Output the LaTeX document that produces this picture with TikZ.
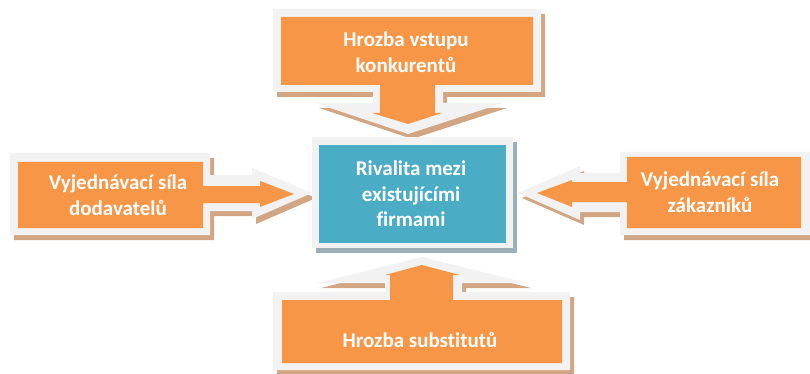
\documentclass[tikz,border=0pt]{standalone}
\usepackage{fontspec}
\setmainfont{Carlito}[Ligatures=NoCommon]
\definecolor{forceorange}{HTML}{F79646}
\definecolor{rivalblue}{HTML}{4BACC6}
\definecolor{glowgray}{HTML}{F2F2F2}
\definecolor{tanshadow}{HTML}{D2A682}
\definecolor{blueshadow}{HTML}{9CB0B8}

\begin{document}
\begin{tikzpicture}[x=1pt,y=-1pt,
    drop/.style={shift={(4,5)}},
    lbl/.style={text=white,align=center,font=\bfseries\fontsize{21}{25.5}\selectfont}]
  \useasboundingbox (0,0) rectangle (810,374);

  % top callout: entry of new competitors
  \fill[tanshadow,drop] (273,9) -- (541,9) -- (541,92) -- (443,92) -- (443,103) -- (503,103)
    -- (408,134) -- (315,103) -- (373,103) -- (373,92) -- (273,92) -- cycle;
  \fill[glowgray] (273,9) -- (541,9) -- (541,92) -- (443,92) -- (443,103) -- (503,103)
    -- (408,134) -- (315,103) -- (373,103) -- (373,92) -- (273,92) -- cycle;
  \fill[forceorange] (281,17) -- (533,17) -- (533,85) -- (435,85) -- (435,113) -- (442,113)
    -- (408,124) -- (372,113) -- (380,113) -- (380,85) -- (281,85) -- cycle;

  % left callout: suppliers, head points right
  \fill[tanshadow,drop] (10,153) -- (210,153) -- (210,175) -- (252,175) -- (252,168) -- (312,193)
    -- (252,219) -- (252,211) -- (210,211) -- (210,235) -- (10,235) -- cycle;
  \fill[glowgray] (10,153) -- (210,153) -- (210,175) -- (252,175) -- (252,168) -- (312,193)
    -- (252,219) -- (252,211) -- (210,211) -- (210,235) -- (10,235) -- cycle;
  \fill[forceorange] (18,162) -- (203,162) -- (203,186) -- (260,186) -- (260,181) -- (294,194)
    -- (260,207) -- (260,203) -- (203,203) -- (203,228) -- (18,228) -- cycle;

  % right callout: buyers, head points left
  \fill[tanshadow,drop] (812,152) -- (620,152) -- (620,173) -- (580,173) -- (580,166) -- (518,193)
    -- (580,220) -- (580,212) -- (620,212) -- (620,235) -- (812,235) -- cycle;
  \fill[glowgray] (812,152) -- (620,152) -- (620,173) -- (580,173) -- (580,166) -- (518,193)
    -- (580,220) -- (580,212) -- (620,212) -- (620,235) -- (812,235) -- cycle;
  \fill[forceorange] (801,157) -- (627,157) -- (627,182) -- (572,182) -- (572,180) -- (537,193)
    -- (572,207) -- (572,202) -- (627,202) -- (627,228) -- (801,228) -- cycle;

  % bottom callout: substitutes, head points up
  \fill[tanshadow,drop] (422,257) -- (527,283) -- (462,283) -- (462,292) -- (570,292) -- (570,370)
    -- (273,370) -- (273,292) -- (385,292) -- (385,283) -- (317,283) -- cycle;
  \fill[glowgray] (422,257) -- (527,283) -- (462,283) -- (462,292) -- (570,292) -- (570,370)
    -- (273,370) -- (273,292) -- (385,292) -- (385,283) -- (317,283) -- cycle;
  \fill[forceorange] (422,265) -- (460,275) -- (453,275) -- (453,300) -- (562,300) -- (562,363)
    -- (282,363) -- (282,300) -- (390,300) -- (390,275) -- (385,275) -- cycle;

  % centre box
  \fill[blueshadow,drop] (312,137) rectangle (513,248);
  \fill[glowgray] (312,137) rectangle (513,248);
  \fill[rivalblue] (319,145) rectangle (506,243);

  \node[lbl] (entrants) at (406,52) {Hrozba vstupu\\konkurentů};
  \node[lbl] (suppliers) at (118,195) {Vyjednávací síla\\dodavatelů};
  \node[lbl] (buyers) at (710,192) {Vyjednávací síla\\zákazníků};
  \node[lbl] (rivalry) at (411,194) {Rivalita mezi\\existujícími\\firmami};
  \node[lbl,anchor=base] (substitutes) at (420,347) {Hrozba substitutů};
\end{tikzpicture}
\end{document}
